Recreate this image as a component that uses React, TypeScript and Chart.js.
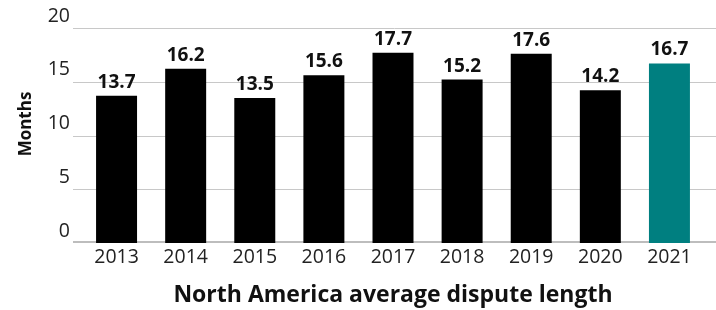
import React, { useEffect, useRef } from "react";
import { Chart, registerables } from "chart.js";

Chart.register(...registerables);

const years = ["2013", "2014", "2015", "2016", "2017", "2018", "2019", "2020", "2021"];
const disputeMonths = [13.7, 16.2, 13.5, 15.6, 17.7, 15.2, 17.6, 14.2, 16.7];
const barColors = ["#000000", "#000000", "#000000", "#000000", "#000000", "#000000", "#000000", "#000000", "#007f80"];
const yTitle = "Months";
const xTitle = "North America average dispute length";

const FONT = "'Open Sans', 'Noto Sans', sans-serif";

const gridPlugin = {
  id: "customGrid",
  beforeDatasetsDraw(chart: any) {
    const ctx = chart.ctx;
    const y = chart.scales.y;
    ctx.save();
    y.ticks.forEach((t: any) => {
      const py = y.getPixelForValue(t.value);
      if (t.value === 0) {
        ctx.strokeStyle = "#bdbdbd";
        ctx.lineWidth = 2;
        ctx.beginPath();
        ctx.moveTo(73, Math.round(py) - 1);
        ctx.lineTo(chart.width, Math.round(py) - 1);
        ctx.stroke();
      } else {
        ctx.strokeStyle = "#c8c8c8";
        ctx.lineWidth = 1;
        ctx.beginPath();
        ctx.moveTo(73, Math.round(py) + 0.5);
        ctx.lineTo(chart.width, Math.round(py) + 0.5);
        ctx.stroke();
      }
    });
    ctx.restore();
  },
};

const labelPlugin = {
  id: "valueLabels",
  afterDatasetsDraw(chart: any) {
    const ctx = chart.ctx;
    const meta = chart.getDatasetMeta(0);
    ctx.save();
    ctx.font = `bold 19px ${FONT}`;
    ctx.fillStyle = "#111111";
    ctx.textAlign = "center";
    ctx.textBaseline = "alphabetic";
    meta.data.forEach((bar: any, i: number) => {
      ctx.fillText(disputeMonths[i].toFixed(1), bar.x, bar.y - 8);
    });
    // y-axis title
    ctx.translate(31, 124);
    ctx.rotate(-Math.PI / 2);
    ctx.font = `bold 17px ${FONT}`;
    ctx.textAlign = "center";
    ctx.textBaseline = "alphabetic";
    ctx.fillText(yTitle, 0, 0);
    ctx.restore();
  },
};

export default function App() {
  const ref = useRef<HTMLCanvasElement | null>(null);
  useEffect(() => {
    document.body.style.margin = "0";
    const chart = new Chart(ref.current as HTMLCanvasElement, {
      type: "bar",
      data: {
        labels: years,
        datasets: [
          {
            data: disputeMonths,
            backgroundColor: barColors,
            categoryPercentage: 1,
            barPercentage: 0.593,
          },
        ],
      },
      plugins: [gridPlugin, labelPlugin],
      options: {
        animation: false,
        responsive: false,
        layout: { padding: { top: 28, right: 12, left: 0, bottom: 0 } },
        plugins: { legend: { display: false }, tooltip: { enabled: false } },
        scales: {
          x: {
            grid: { display: false, drawTicks: false },
            border: { display: false },
            ticks: { color: "#222222", font: { family: FONT, size: 19.5 }, padding: 3 },
            title: {
              display: true,
              text: xTitle,
              color: "#111111",
              font: { family: FONT, size: 23, weight: "bold" },
              padding: { top: 0, bottom: 1 },
            },
            afterFit(scale: any) {
              scale.height = 67;
            },
          },
          y: {
            min: 0,
            max: 20,
            grid: { display: false, drawTicks: false },
            border: { display: false },
            ticks: {
              stepSize: 5,
              color: "#222222",
              font: { family: FONT, size: 19.5 },
              padding: 12,
              labelOffset: -12,
            },
            afterFit(scale: any) {
              scale.width = 82;
            },
          },
        },
      },
    } as any);
    return () => chart.destroy();
  }, []);
  return <canvas ref={ref} width={716} height={310} style={{ display: "block" }} />;
}
